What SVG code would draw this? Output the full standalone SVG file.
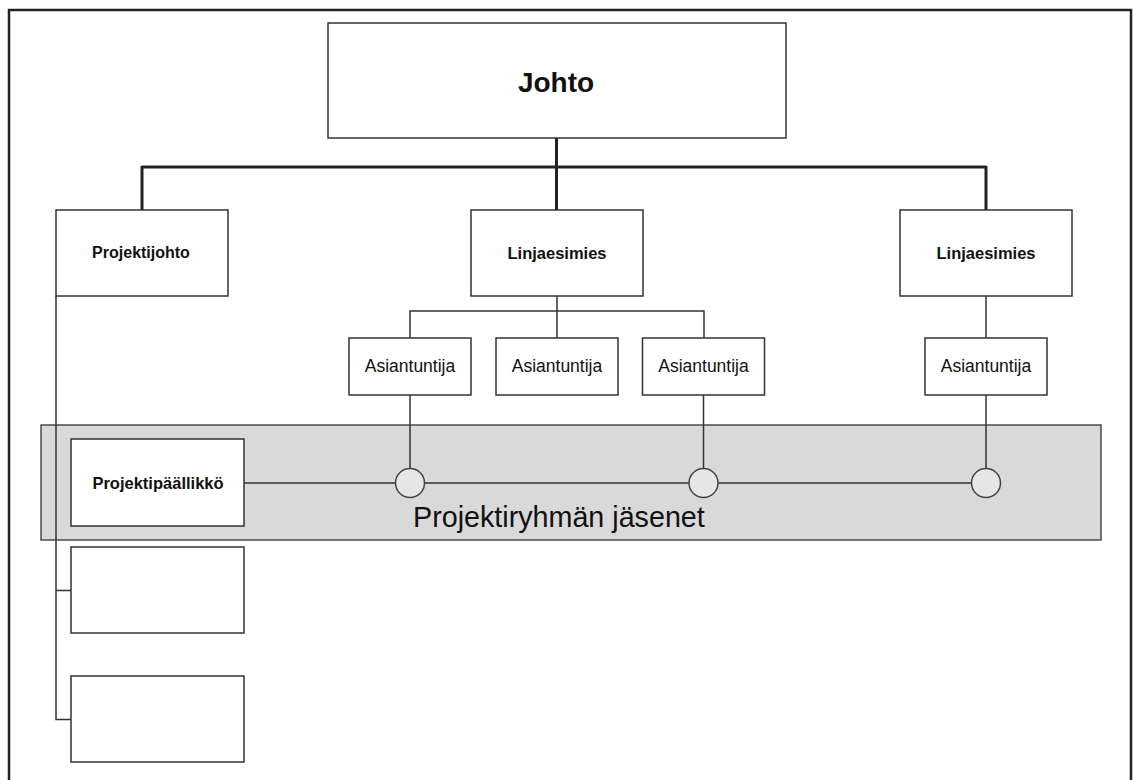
<svg xmlns="http://www.w3.org/2000/svg" width="1133" height="780" viewBox="0 0 1133 780">
  <style>
    .box { fill: #ffffff; stroke: #333333; stroke-width: 1.5; }
    .band { fill: #d9d9d9; stroke: #333333; stroke-width: 1.3; }
    .thick { fill: none; stroke: #222222; stroke-width: 3; stroke-linejoin: round; }
    .thin { fill: none; stroke: #333333; stroke-width: 1.5; }
    .member { fill: #e6e6e6; stroke: #444444; stroke-width: 1.5; }
    .lbl { font-family: "Liberation Sans", Arial, sans-serif; fill: #111111; text-anchor: middle; }
    .b { font-weight: bold; }
  </style>

  <rect width="1133" height="780" fill="#ffffff"/>
  <!-- page frame -->
  <path d="M9,790 V10 H1131 V790" fill="none" stroke="#222222" stroke-width="2.5"/>

  <!-- project team band -->
  <g id="team-band">
    <rect class="band" x="41" y="425" width="1060" height="115"/>
    <text class="lbl" x="413" y="527" font-size="28.7" style="text-anchor:start">Projektiryhmän jäsenet</text>
  </g>

  <g id="connectors">
    <!-- top level -->
    <path class="thick" d="M556.5,138 V210"/>
    <path class="thick" d="M142,210 V167 H986 V210"/>
    <!-- line manager to specialists -->
    <path class="thin" d="M557,296 V338"/>
    <path class="thin" d="M410,338 V311 H704 V338"/>
    <path class="thin" d="M986,296 V338"/>
    <!-- specialists to team members -->
    <path class="thin" d="M410,395 V469"/>
    <path class="thin" d="M703.5,395 V469"/>
    <path class="thin" d="M986,395 V469"/>
    <!-- project manager line -->
    <path class="thin" d="M244,483 H986"/>
    <!-- project management spine -->
    <path class="thin" d="M56,296 V719.5 H71"/>
    <path class="thin" d="M56,590.5 H71"/>
  </g>

  <g id="johto">
    <rect class="box" x="328" y="23" width="458" height="115"/>
    <text class="lbl b" x="556" y="92" font-size="28">Johto</text>
  </g>

  <g id="projektijohto">
    <rect class="box" x="56" y="210" width="172" height="86"/>
    <text class="lbl b" x="141" y="258" font-size="16">Projektijohto</text>
  </g>

  <g id="linjaesimies-1">
    <rect class="box" x="471" y="210" width="172" height="86"/>
    <text class="lbl b" x="557" y="259" font-size="16.5">Linjaesimies</text>
  </g>

  <g id="linjaesimies-2">
    <rect class="box" x="900" y="210" width="172" height="86"/>
    <text class="lbl b" x="986" y="259" font-size="16.5">Linjaesimies</text>
  </g>

  <g id="asiantuntija-1">
    <rect class="box" x="349" y="338" width="122" height="57"/>
    <text class="lbl" x="410" y="372" font-size="17.5">Asiantuntija</text>
  </g>

  <g id="asiantuntija-2">
    <rect class="box" x="496" y="338" width="122" height="57"/>
    <text class="lbl" x="557" y="372" font-size="17.5">Asiantuntija</text>
  </g>

  <g id="asiantuntija-3">
    <rect class="box" x="642.5" y="338" width="122" height="57"/>
    <text class="lbl" x="703.5" y="372" font-size="17.5">Asiantuntija</text>
  </g>

  <g id="asiantuntija-4">
    <rect class="box" x="925" y="338" width="122" height="57"/>
    <text class="lbl" x="986" y="372" font-size="17.5">Asiantuntija</text>
  </g>

  <g id="projektipaallikko">
    <rect class="box" x="71" y="439" width="173" height="87"/>
    <text class="lbl b" x="158" y="489" font-size="16.5">Projektipäällikkö</text>
  </g>

  <g id="jasen-1">
    <circle class="member" cx="410" cy="483" r="14.5"/>
  </g>
  <g id="jasen-2">
    <circle class="member" cx="703.5" cy="483" r="14.5"/>
  </g>
  <g id="jasen-3">
    <circle class="member" cx="986" cy="483" r="14.5"/>
  </g>

  <g id="tyhja-1">
    <rect class="box" x="71" y="547" width="173" height="86"/>
  </g>

  <g id="tyhja-2">
    <rect class="box" x="71" y="676" width="173" height="86"/>
  </g>
</svg>
